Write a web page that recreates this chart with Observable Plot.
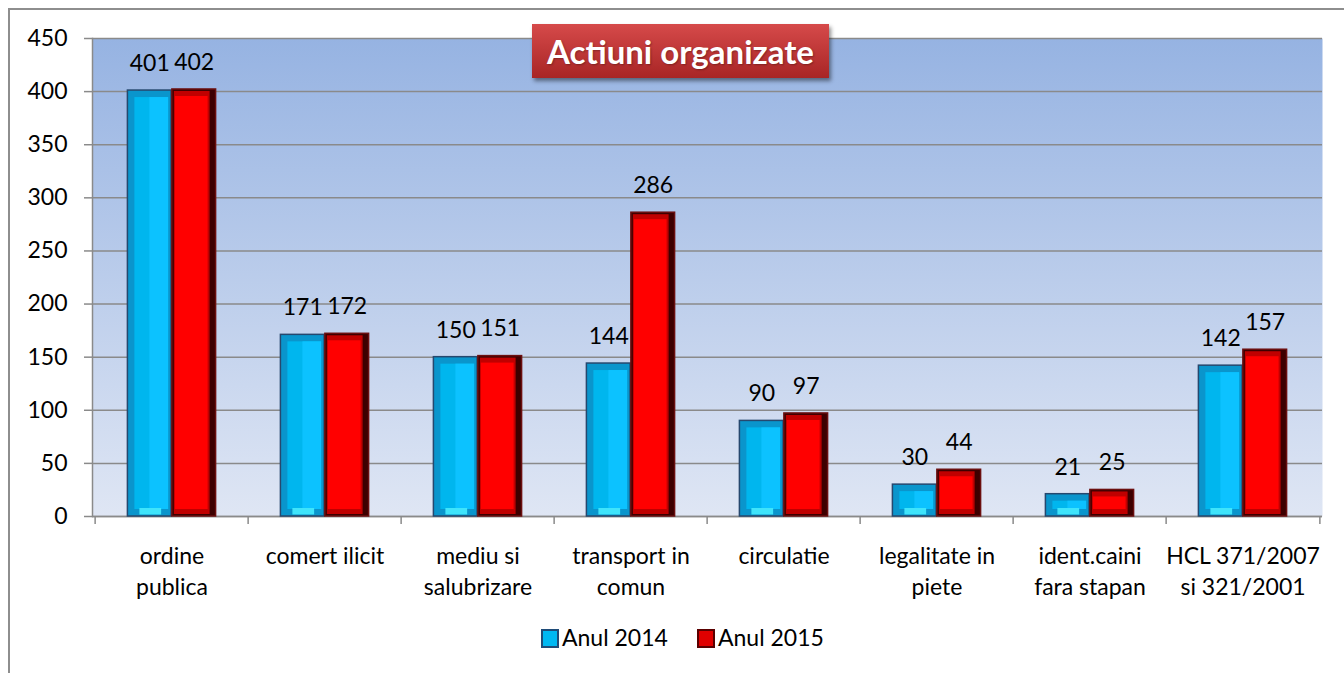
<!DOCTYPE html>
<html><head><meta charset="utf-8">
<script src="https://cdn.jsdelivr.net/npm/d3@7"></script>
<script src="https://cdn.jsdelivr.net/npm/@observablehq/plot@0.6"></script>
<style>
body{margin:0;background:#fff;font-family:Lato,sans-serif;}
#wrap{position:relative;width:1344px;height:673px;overflow:hidden;}
#border{position:absolute;left:8px;top:8px;width:1400px;height:700px;border-left:2px solid #8e8e8e;border-top:2px solid #8e8e8e;}
#chart{position:absolute;left:0;top:0;}
#title{position:absolute;left:532px;top:24px;width:297px;height:54px;background:linear-gradient(#d64a4a,#a82525);box-shadow:2px 3px 4px rgba(0,0,0,.45);color:#fff;font-weight:bold;font-size:33px;display:flex;align-items:center;justify-content:center;text-shadow:1px 1px 2px rgba(0,0,0,.3);white-space:nowrap}
.lg{position:absolute;font-size:23px;line-height:23px;color:#000;white-space:nowrap}
.sq{position:absolute;width:14px;height:15px;}
</style></head>
<body>
<div id="wrap">
  <div id="border"></div>
  <div id="chart"></div>
  <div id="title">Actiuni organizate</div>
  <div id="legend"></div>
</div>
<script>
const categories = ["ordine publica","comert ilicit","mediu si salubrizare","transport in comun","circulatie","legalitate in piete","ident.caini fara stapan","HCL 371/2007 si 321/2001"];
const categoryLabels = ["ordine\npublica","comert ilicit","mediu si\nsalubrizare","transport in\ncomun","circulatie","legalitate in\npiete","ident.caini\nfara stapan","HCL 371/2007\nsi 321/2001"];
const series = ["Anul 2014","Anul 2015"];
const values2014 = [401,171,150,144,90,30,21,142];
const values2015 = [402,172,151,286,97,44,25,157];
const yTicks = [0,50,100,150,200,250,300,350,400,450];

const rows2014 = categories.map((c,i)=>({cat:c, series:series[0], value:values2014[i]}));
const rows2015 = categories.map((c,i)=>({cat:c, series:series[1], value:values2015[i]}));
const labelOf = new Map(categories.map((c,i)=>[c, categoryLabels[i]]));

const W = 1344, ML = 92, MR = 22;
const band = (W-ML-MR)/categories.length;
const half = band/2;
const outer = 32.4, inner = half;
const grid = "#8a8a8a";

const svg = Plot.plot({
  width: W, height: 600,
  marginLeft: ML, marginRight: MR, marginTop: 38, marginBottom: 84,
  style: {fontFamily: "Lato, sans-serif", fontSize: "23px", color: "#000", background: "transparent", overflow: "visible"},
  x: {domain: categories, padding: 0, axis: null, label: null},
  y: {domain: [0, 450], axis: null, label: null},
  marks: [
    Plot.frame({fill: "url(#bg)"}),
    Plot.gridY(yTicks, {stroke: grid, strokeOpacity: 1, strokeWidth: 1.5}),
    Plot.axisY(yTicks, {label: null, tickSize: 8, tickPadding: 17, stroke: grid, strokeWidth: 1.5, fill: "#000", fontSize: 23, tickFormat: d => String(d)}),
    Plot.frame({anchor: "left", stroke: grid, strokeWidth: 1.5}),
    Plot.ruleY([0], {stroke: grid, strokeWidth: 1.5}),
    Plot.axisX(categories, {label: null, tickSize: 8, stroke: grid, strokeWidth: 1.5, tickFormat: () => "", dx: -half}),
    Plot.axisX([categories[categories.length-1]], {label: null, tickSize: 8, stroke: grid, strokeWidth: 1.5, tickFormat: () => "", dx: half}),
    Plot.axisX(categories, {label: null, tickSize: 0, tickPadding: 25, fontSize: 23, fill: "#000", lineHeight: 1.35, tickFormat: d => labelOf.get(d)}),
    // 2014 bars (bevelled blue)
    Plot.barY(rows2014, {x: "cat", y: "value", insetLeft: outer, insetRight: inner, fill: "#0a95cc", stroke: "#26486e", strokeWidth: 1.5}),
    Plot.barY(rows2014, {x: "cat", y: "value", insetLeft: outer+7, insetRight: inner+3, insetTop: 7, insetBottom: 7, fill: "#00b6ee"}),
    Plot.barY(rows2014, {x: "cat", y: "value", insetLeft: outer+22, insetRight: inner+3, insetTop: 7, insetBottom: 7, fill: "#0cc2ff"}),
    Plot.barY(rows2014, {x: "cat", y1: 0, y2: 0, insetTop: -8, insetBottom: 1.5, insetLeft: outer+12, insetRight: inner+10, fill: "#3fe4fb"}),
    // 2015 bars (bevelled red)
    Plot.barY(rows2015, {x: "cat", y: "value", insetLeft: inner, insetRight: outer, fill: "#3d0000", stroke: "#6b0f0f", strokeWidth: 1.5}),
    Plot.barY(rows2015, {x: "cat", y: "value", insetLeft: inner+2, insetRight: outer+6, insetTop: 2, insetBottom: 2, fill: "#c00000"}),
    Plot.barY(rows2015, {x: "cat", y: "value", insetLeft: inner+3, insetRight: outer+8, insetTop: 7, insetBottom: 7, fill: "#ff0000"}),
    // data labels
    Plot.text(rows2014, {x: "cat", y: "value", text: d => String(d.value), dx: -22.2, dy: -27, fontSize: 23, fill: "#000"}),
    Plot.text(rows2015, {x: "cat", y: "value", text: d => String(d.value), dx: 22.2, dy: -27, fontSize: 23, fill: "#000"})
  ]
});

// background gradient
const ns = "http://www.w3.org/2000/svg";
const defs = document.createElementNS(ns, "defs");
defs.innerHTML = '<linearGradient id="bg" x1="0" y1="0" x2="0" y2="1"><stop offset="0" stop-color="#96b3e2"/><stop offset="1" stop-color="#dfe6f4"/></linearGradient>';
svg.insertBefore(defs, svg.firstChild);
document.getElementById("chart").appendChild(svg);

// legend
const lg = document.getElementById("legend");
const legendItems = [
  {name: series[0], sqLeft: 541, txtLeft: 562, outerC: "#1f4c78", innerC: "#00b8f2"},
  {name: series[1], sqLeft: 697, txtLeft: 718, outerC: "#5a0000", innerC: "#e00000"}
];
legendItems.forEach(it => {
  const sq = document.createElement("div");
  sq.className = "sq";
  sq.style.left = it.sqLeft + "px"; sq.style.top = "629px";
  sq.style.background = it.innerC;
  sq.style.border = "2px solid " + it.outerC;
  lg.appendChild(sq);
  const t = document.createElement("div");
  t.className = "lg";
  t.style.left = it.txtLeft + "px"; t.style.top = "626px";
  t.textContent = it.name;
  lg.appendChild(t);
});
</script>
</body></html>
